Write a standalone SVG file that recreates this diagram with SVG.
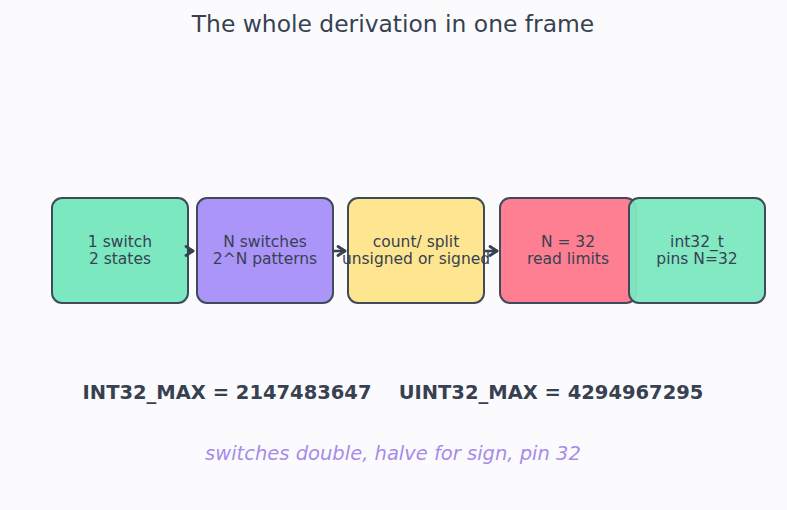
<svg xmlns="http://www.w3.org/2000/svg" width="787" height="510" viewBox="0 0 787 510">
<defs>
<style>
.node rect{stroke:#3f4a5a;stroke-width:2}
.node text{font-family:"DejaVu Sans",sans-serif;font-size:15.5px;fill:#374151;text-anchor:middle}
.conn path{fill:none;stroke:#374151;stroke-width:2.5;stroke-linecap:round;stroke-linejoin:round}
</style>
<marker id="ah" viewBox="0 0 12 12" refX="9" refY="6" markerWidth="12" markerHeight="12" markerUnits="userSpaceOnUse" orient="auto">
<path d="M2,1.5 L9,6 L2,10.5" fill="none" stroke="#374151" stroke-width="2.8" stroke-linecap="round" stroke-linejoin="round"/>
</marker>
</defs>
<rect width="787" height="510" fill="#fbfbfe"/>
<text x="393" y="32" font-family="DejaVu Sans,sans-serif" font-size="23.4" fill="#374151" text-anchor="middle">The whole derivation in one frame</text>
<g id="n1" class="node"><rect x="52" y="198" width="136" height="105" rx="10" fill="#7ce8c0"/><text x="120" y="247">1 switch</text><text x="120" y="264">2 states</text></g>
<g id="n2" class="node"><rect x="197" y="198" width="136" height="105" rx="10" fill="#ab95f9"/><text x="265" y="247">N switches</text><text x="265" y="264">2^N patterns</text></g>
<g id="n3" class="node"><rect x="348" y="198" width="136" height="105" rx="10" fill="#fde68f"/><text x="416" y="247">count/ split</text><text x="416" y="264">unsigned or signed</text></g>
<g id="n4" class="node"><rect x="500" y="198" width="136" height="105" rx="10" fill="#fe7f92"/><text x="568" y="247">N = 32</text><text x="568" y="264">read limits</text></g>
<g id="n5" class="node"><rect x="629" y="198" width="136" height="105" rx="10" fill="#7ce8c0" fill-opacity="0.95"/><text x="697" y="247">int32_t</text><text x="697" y="264">pins N=32</text></g>
<g class="conn">
<path d="M188,251 L193,251" marker-end="url(#ah)"/>
<path d="M334,251 L345,251" marker-end="url(#ah)"/>
<path d="M485,251 L497,251" marker-end="url(#ah)"/>
</g>
<text x="393" y="399" font-family="DejaVu Sans,sans-serif" font-size="19.5" font-weight="bold" fill="#374151" text-anchor="middle" xml:space="preserve">INT32_MAX = 2147483647    UINT32_MAX = 4294967295</text>
<text x="393" y="460" font-family="DejaVu Sans,sans-serif" font-size="19.5" font-style="italic" fill="#a78bea" text-anchor="middle">switches double, halve for sign, pin 32</text>
</svg>
